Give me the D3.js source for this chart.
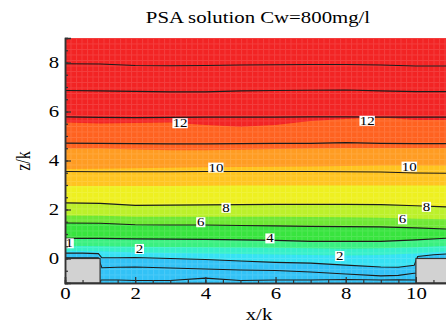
<!DOCTYPE html>
<html>
<head>
<meta charset="utf-8">
<script src="https://cdn.jsdelivr.net/npm/d3@7"></script>
<style>
  body { margin: 0; background: #fff; }
  svg { display: block; }
</style>
</head>
<body>
<svg id="chart" width="446" height="326"></svg>
<script>
// ---- data ----
const chartTitle = "PSA solution Cw=800mg/l";
const xTitle = "x/k";
const zTitle = "z/k";
const xTicksMajor = [0, 2, 4, 6, 8, 10];
const zTicksMajor = [0, 2, 4, 6, 8];

// x positions (x/k) at which line heights are sampled
const xCoarse = [0, 1, 2, 3, 4, 5, 6, 7, 8, 9, 10, 11];
const xFine = [0, 0.5, 0.95, 1.05, 1.5, 2, 3, 4, 5, 6, 7, 8, 9, 9.5, 9.95, 10.05, 10.5, 11];

// contour lines: height z/k of each level along xCoarse
const level14 = [7.95, 7.94, 7.88, 7.87, 7.88, 7.90, 7.91, 7.92, 7.92, 7.90, 7.86, 7.86];
const level13 = [6.86, 6.84, 6.82, 6.80, 6.80, 6.84, 6.86, 6.87, 6.88, 6.84, 6.81, 6.81];
const level12 = [5.78, 5.76, 5.75, 5.76, 5.77, 5.77, 5.77, 5.78, 5.78, 5.77, 5.77, 5.77];
const level11 = [4.71, 4.70, 4.69, 4.68, 4.68, 4.69, 4.70, 4.70, 4.73, 4.70, 4.69, 4.69];
const level10 = [3.55, 3.54, 3.54, 3.54, 3.55, 3.55, 3.55, 3.55, 3.54, 3.53, 3.49, 3.48];
const level8  = [2.27, 2.25, 2.17, 2.18, 2.19, 2.20, 2.21, 2.21, 2.21, 2.20, 2.15, 2.10];
const level6  = [1.45, 1.44, 1.38, 1.37, 1.37, 1.35, 1.33, 1.31, 1.30, 1.29, 1.25, 1.20];
const level4  = [0.82, 0.82, 0.80, 0.79, 0.78, 0.76, 0.74, 0.70, 0.70, 0.70, 0.76, 0.84];

// near-wall lines, sampled along xFine (they bend around the rib corners)
const level2  = [0.22, 0.22, 0.20, 0.03, 0.03, 0.04, 0.00, -0.04, -0.10, -0.16, -0.19, -0.27, -0.35, -0.36, -0.28, 0.08, 0.15, 0.20];
const level1  = [0.03, 0.03, 0.03, -0.38, -0.36, -0.35, -0.39, -0.43, -0.47, -0.49, -0.55, -0.63, -0.71, -0.69, -0.60, -0.60, -0.60, -0.60];
const level05 = [-0.90, -0.90, -0.90, -0.88, -0.88, -0.90, -0.90, -0.80, -0.90, -0.88, -0.88, -0.86, -0.88, -0.87, -0.88, -0.88, -0.88, -0.88];

// colour band edges (z/k along xCoarse), top to bottom
const edgeRedOrange   = [5.55, 5.51, 5.53, 5.55, 5.45, 5.38, 5.45, 5.61, 5.69, 5.76, 5.65, 5.65];
const edgeOrange      = [4.49, 4.49, 4.45, 4.42, 4.42, 4.44, 4.47, 4.49, 4.50, 4.50, 4.50, 4.50];
const edgeGold        = [3.65, 3.66, 3.68, 3.70, 3.72, 3.73, 3.74, 3.76, 3.78, 3.80, 3.80, 3.80];
const edgeYellow      = [2.96, 2.96, 2.96, 2.96, 2.97, 2.98, 2.98, 2.98, 2.98, 2.98, 2.98, 2.98];
const edgeLime        = [1.76, 1.74, 1.70, 1.70, 1.70, 1.70, 1.70, 1.69, 1.68, 1.66, 1.62, 1.60];
const edgeAqua        = [0.52, 0.50, 0.48, 0.47, 0.46, 0.45, 0.44, 0.42, 0.40, 0.42, 0.46, 0.52];
const edgeCyan        = [0.32, 0.30, 0.25, 0.22, 0.20, 0.18, 0.16, 0.14, 0.12, 0.14, 0.20, 0.30];

const bandColors = ["#f22424", "#ff6220", "#ff9c22", "#ffc420", "#eef020", "#bcf02a",
                    "#6ee834", "#38e43e", "#3af080", "#36f0c8", "#36e2f4", "#32c2f6"];

// rib blocks on the floor
const ribX0 = [0, 10];
const ribX1 = [1, 11];
const ribTop = 0;

// inline contour labels
const labelText = ["12", "12", "10", "10", "8", "8", "6", "6", "4", "2", "2", "1"];
const labelX    = [3.28, 8.61, 4.30, 9.81, 4.59, 10.30, 3.87, 9.62, 5.84, 2.12, 7.83, 0.12];
const labelZ    = [5.52, 5.62, 3.71, 3.75, 2.07, 2.11, 1.48, 1.60, 0.82, 0.39, 0.10, 0.62];

// ---- layout ----
const FONT = '"Liberation Serif", "Times New Roman", serif';
const svg = d3.select("#chart");
const x = d3.scaleLinear().domain([0, 11]).range([65, 451]);
const z = d3.scaleLinear().domain([-1, 9]).range([283, 38]);
const SX = 1.3; // horizontal stretch of the serif lettering

const defs = svg.append("defs");
defs.append("clipPath").attr("id", "plotClip")
  .append("rect")
  .attr("x", x(0)).attr("y", z(9))
  .attr("width", x(11) - x(0)).attr("height", z(-1) - z(9));

const mesh = defs.append("pattern").attr("id", "mesh")
  .attr("patternUnits", "userSpaceOnUse")
  .attr("x", x(0)).attr("y", z(9))
  .attr("width", 5.5).attr("height", 5.5);
mesh.append("path").attr("d", "M0,0.5H5.5M0.5,0V5.5")
  .attr("stroke", "#fff").attr("stroke-width", 1).attr("fill", "none");

const plot = svg.append("g").attr("clip-path", "url(#plotClip)");

// background band (top colour)
plot.append("rect")
  .attr("x", x(0)).attr("y", z(9))
  .attr("width", x(11) - x(0)).attr("height", z(-1) - z(9))
  .attr("fill", bandColors[0]);

// each edge fills everything below it with the next colour
const bandEdges = [
  [xCoarse, edgeRedOrange], [xCoarse, edgeOrange], [xCoarse, edgeGold], [xCoarse, edgeYellow],
  [xCoarse, level8], [xCoarse, edgeLime], [xCoarse, level6], [xCoarse, level4],
  [xCoarse, edgeAqua], [xCoarse, edgeCyan], [xFine, level2]
];
const areaBelow = d3.area()
  .x(d => x(d[0]))
  .y0(z(-1))
  .y1(d => z(d[1]));
bandEdges.forEach((e, i) => {
  const pts = e[0].map((xv, j) => [xv, e[1][j]]);
  plot.append("path").attr("d", areaBelow(pts)).attr("fill", bandColors[i + 1]);
});

// faint computational mesh
plot.append("rect")
  .attr("x", x(0)).attr("y", z(9))
  .attr("width", x(11) - x(0)).attr("height", z(-1) - z(9))
  .attr("fill", "url(#mesh)").attr("opacity", 0.12);

// contour lines
const contourLines = [
  [xCoarse, level14], [xCoarse, level13], [xCoarse, level12], [xCoarse, level11],
  [xCoarse, level10], [xCoarse, level8], [xCoarse, level6], [xCoarse, level4],
  [xFine, level2], [xFine, level1], [xFine, level05]
];
const lineGen = d3.line().x(d => x(d[0])).y(d => z(d[1]));
contourLines.forEach(c => {
  const pts = c[0].map((xv, j) => [xv, c[1][j]]);
  plot.append("path").attr("d", lineGen(pts))
    .attr("fill", "none").attr("stroke", "#1c1c1c").attr("stroke-width", 1.1);
});

// rib blocks
ribX0.forEach((x0, i) => {
  plot.append("rect")
    .attr("x", x(x0)).attr("y", z(ribTop))
    .attr("width", x(ribX1[i]) - x(x0)).attr("height", z(-1) - z(ribTop))
    .attr("fill", "#d2d2d2").attr("stroke", "#333").attr("stroke-width", 1.2);
});

// contour labels
labelText.forEach((t, i) => {
  const g = plot.append("g").attr("transform", `translate(${x(labelX[i])},${z(labelZ[i])})`);
  const w = t.length * 6.2 + 3;
  g.append("rect").attr("x", -w / 2).attr("y", -5).attr("width", w).attr("height", 10)
    .attr("fill", "#fff");
  g.append("text").attr("transform", `scale(${SX},1)`)
    .attr("text-anchor", "middle").attr("dy", "0.34em")
    .attr("font-family", FONT).attr("font-size", 11.5).attr("fill", "#000").text(t);
});

// ---- axes (ticks point inward) ----
function styleAxis(g) {
  g.attr("font-family", FONT);
  g.select(".domain").attr("stroke", "#333").attr("stroke-width", 1.5);
  g.selectAll(".tick line").attr("stroke", "#333").attr("stroke-width", 1.2);
}
const xMinorTicks = d3.range(0, 11.01, 0.5);
const zMinorTicks = d3.range(-1, 9.01, 0.5);

const xMinor = svg.append("g").attr("transform", `translate(0,${z(-1)})`)
  .call(d3.axisBottom(x).tickValues(xMinorTicks).tickSize(-3).tickFormat(""));
styleAxis(xMinor);
const xMajor = svg.append("g").attr("transform", `translate(0,${z(-1)})`)
  .call(d3.axisBottom(x).tickValues(xTicksMajor).tickSize(-6).tickPadding(5).tickFormat(d3.format("d")));
styleAxis(xMajor);
xMajor.attr("font-size", 16);
xMajor.selectAll("text").attr("fill", "#000").attr("transform", `scale(${SX},1)`);

const zMinor = svg.append("g").attr("transform", `translate(${x(0)},0)`)
  .call(d3.axisLeft(z).tickValues(zMinorTicks).tickSize(-3).tickFormat(""));
styleAxis(zMinor);
const zMajor = svg.append("g").attr("transform", `translate(${x(0)},0)`)
  .call(d3.axisLeft(z).tickValues(zTicksMajor).tickSize(-6).tickPadding(4.5).tickFormat(d3.format("d")));
styleAxis(zMajor);
zMajor.attr("font-size", 16);
zMajor.selectAll("text").attr("fill", "#000").attr("transform", `scale(${SX},1)`);

// titles
svg.append("text")
  .attr("transform", `translate(258,22.5) scale(${SX},1)`)
  .attr("font-family", FONT).attr("text-anchor", "middle").attr("font-size", 16).text(chartTitle);
svg.append("text")
  .attr("transform", `translate(259,320) scale(${SX},1)`)
  .attr("font-family", FONT).attr("text-anchor", "middle").attr("font-size", 16).text(xTitle);
svg.append("text")
  .attr("transform", `translate(30,161) scale(${SX},1) rotate(-90)`)
  .attr("font-family", FONT).attr("text-anchor", "middle").attr("font-size", 16).text(zTitle);
</script>
</body>
</html>
